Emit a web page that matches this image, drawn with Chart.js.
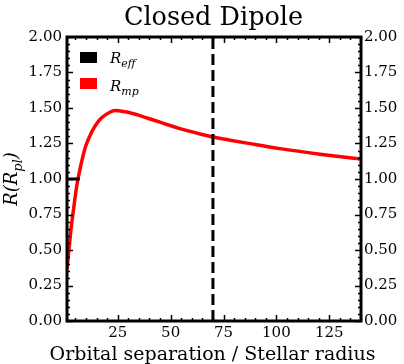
<!DOCTYPE html>
<html>
<head>
<meta charset="utf-8">
<script src="https://cdn.jsdelivr.net/npm/chart.js@4"></script>
<style>
  html, body { margin: 0; padding: 0; background: #fff; }
</style>
</head>
<body>
<canvas id="chart" width="404" height="364"></canvas>
<script>
"use strict";

// values
const separation = [1, 2.1, 3, 4.2, 5.7, 7.3, 9.7, 12.8, 16, 19, 23.8, 28.6, 35.5, 39.2, 45, 49.7, 54.4, 59.2, 63.9, 69.4, 77.5, 87.5, 101.7, 120.6, 140];
const rMp = [0.37, 0.53, 0.66, 0.80, 0.96, 1.08, 1.225, 1.335, 1.41, 1.45, 1.483, 1.473, 1.446, 1.428, 1.40, 1.377, 1.355, 1.335, 1.317, 1.298, 1.275, 1.249, 1.214, 1.175, 1.14];
const rEffX = [1, 7];
const rEffY = [1, 1];
const markerX = 70;
const xRange = [1, 140];
const yRange = [0, 2];
const xTicks = [25, 50, 75, 100, 125];
const yTicks = [0, 0.25, 0.5, 0.75, 1, 1.25, 1.5, 1.75, 2];
const xMinorStep = 5;
const yMinorStep = 0.05;

const SERIF = "'DejaVu Serif', serif";
const RED = "#ff0000";
const BLACK = "#000000";

const tickFont = { family: "DejaVu Serif", size: 15 };

// label with a subscript, italic like mathtext
function mathLabel (ctx, x, y, main, sub, size, align) {
    const subSize = Math.round(size * 0.7);
    ctx.font = `italic ${size}px ${SERIF}`;
    const parts = Array.isArray(main) ? main : [main, ""];
    const w1 = ctx.measureText(parts[0]).width;
    const w3 = ctx.measureText(parts[1]).width;
    ctx.font = `italic ${subSize}px ${SERIF}`;
    const w2 = ctx.measureText(sub).width;
    const total = w1 + w2 + w3;
    let start = align === "center" ? x - total / 2 : x;

    ctx.textAlign = "left";
    ctx.textBaseline = "alphabetic";
    ctx.font = `italic ${size}px ${SERIF}`;
    ctx.fillText(parts[0], start, y);
    ctx.font = `italic ${subSize}px ${SERIF}`;
    ctx.fillText(sub, start + w1, y + size * 0.28);
    ctx.font = `italic ${size}px ${SERIF}`;
    ctx.fillText(parts[1], start + w1 + w2, y);
}

const decorations = {
    id: "decorations",
    afterDatasetsDraw (chart) {
        const { ctx, chartArea: a, scales: { x, y } } = chart;

        ctx.save();
        ctx.strokeStyle = BLACK;
        ctx.fillStyle = BLACK;

        // inward ticks on all four sides
        ctx.lineWidth = 1.5;
        ctx.beginPath();
        for (let v = yRange[0]; v <= yRange[1] + 1e-9; v += yMinorStep) {
            const major = yTicks.some(t => Math.abs(t - v) < 1e-6);
            const len = major ? 6 : 3;
            const py = Math.round(y.getPixelForValue(v)) + 0.5;
            ctx.moveTo(a.left, py); ctx.lineTo(a.left + len, py);
            ctx.moveTo(a.right, py); ctx.lineTo(a.right - len, py);
        }
        for (let v = Math.ceil(xRange[0] / xMinorStep) * xMinorStep; v <= xRange[1]; v += xMinorStep) {
            const major = xTicks.includes(v);
            const len = major ? 6 : 3;
            const px = Math.round(x.getPixelForValue(v)) + 0.5;
            ctx.moveTo(px, a.bottom); ctx.lineTo(px, a.bottom - len);
            ctx.moveTo(px, a.top); ctx.lineTo(px, a.top + len);
        }
        ctx.stroke();

        // frame
        ctx.lineWidth = 3;
        ctx.strokeRect(a.left, a.top, a.right - a.left, a.bottom - a.top);

        // title
        ctx.font = `25.5px ${SERIF}`;
        ctx.textAlign = "center";
        ctx.textBaseline = "alphabetic";
        ctx.fillText("Closed Dipole", 213.5, 25);

        // x axis title
        ctx.font = `19px ${SERIF}`;
        ctx.fillText("Orbital separation / Stellar radius", 212.5, 360);

        // y axis title
        ctx.save();
        ctx.translate(17, 179);
        ctx.rotate(-Math.PI / 2);
        mathLabel(ctx, 0, 0, ["R(R", ")"], "pl", 18, "center");
        ctx.restore();

        // legend
        ctx.fillStyle = BLACK;
        ctx.fillRect(80, 52, 17, 11);
        ctx.fillStyle = RED;
        ctx.fillRect(80, 78, 17, 11);
        ctx.fillStyle = BLACK;
        mathLabel(ctx, 110, 63, "R", "eff", 15, "left");
        mathLabel(ctx, 110, 91, "R", "mp", 15, "left");

        ctx.restore();
    }
};

const yAxis = position => ({
    type: "linear",
    position,
    min: yRange[0],
    max: yRange[1],
    afterBuildTicks: scale => { scale.ticks = yTicks.map(value => ({ value })); },
    afterFit: scale => { scale.width = position === "left" ? 67 : 43; },
    grid: { display: false, drawTicks: false },
    border: { display: false },
    ticks: {
        font: tickFont,
        color: BLACK,
        padding: position === "left" ? 5 : 3,
        callback: v => v.toFixed(2)
    }
});

new Chart(document.getElementById("chart"), {
    type: "line",
    data: {
        datasets: [
            {
                label: "R_eff",
                data: rEffX.map((v, i) => ({ x: v, y: rEffY[i] })),
                borderColor: BLACK,
                borderWidth: 3,
                pointRadius: 0
            },
            {
                label: "marker",
                data: [{ x: markerX, y: yRange[0] }, { x: markerX, y: yRange[1] }],
                borderColor: BLACK,
                borderWidth: 3,
                borderDash: [11, 5],
                pointRadius: 0
            },
            {
                label: "R_mp",
                data: separation.map((v, i) => ({ x: v, y: rMp[i] })),
                borderColor: RED,
                borderWidth: 3.5,
                pointRadius: 0,
                cubicInterpolationMode: "monotone"
            }
        ]
    },
    options: {
        responsive: false,
        animation: false,
        devicePixelRatio: 1,
        layout: { padding: { top: 37, left: 0, right: 0, bottom: 0 } },
        plugins: {
            legend: { display: false },
            title: { display: false },
            tooltip: { enabled: false }
        },
        scales: {
            x: {
                type: "linear",
                min: xRange[0],
                max: xRange[1],
                afterBuildTicks: scale => { scale.ticks = xTicks.map(value => ({ value })); },
                afterFit: scale => { scale.height = 43; },
                grid: { display: false, drawTicks: false },
                border: { display: false },
                ticks: { font: tickFont, color: BLACK, padding: 3, maxRotation: 0 }
            },
            y: yAxis("left"),
            y2: yAxis("right")
        }
    },
    plugins: [decorations]
});
</script>
</body>
</html>
